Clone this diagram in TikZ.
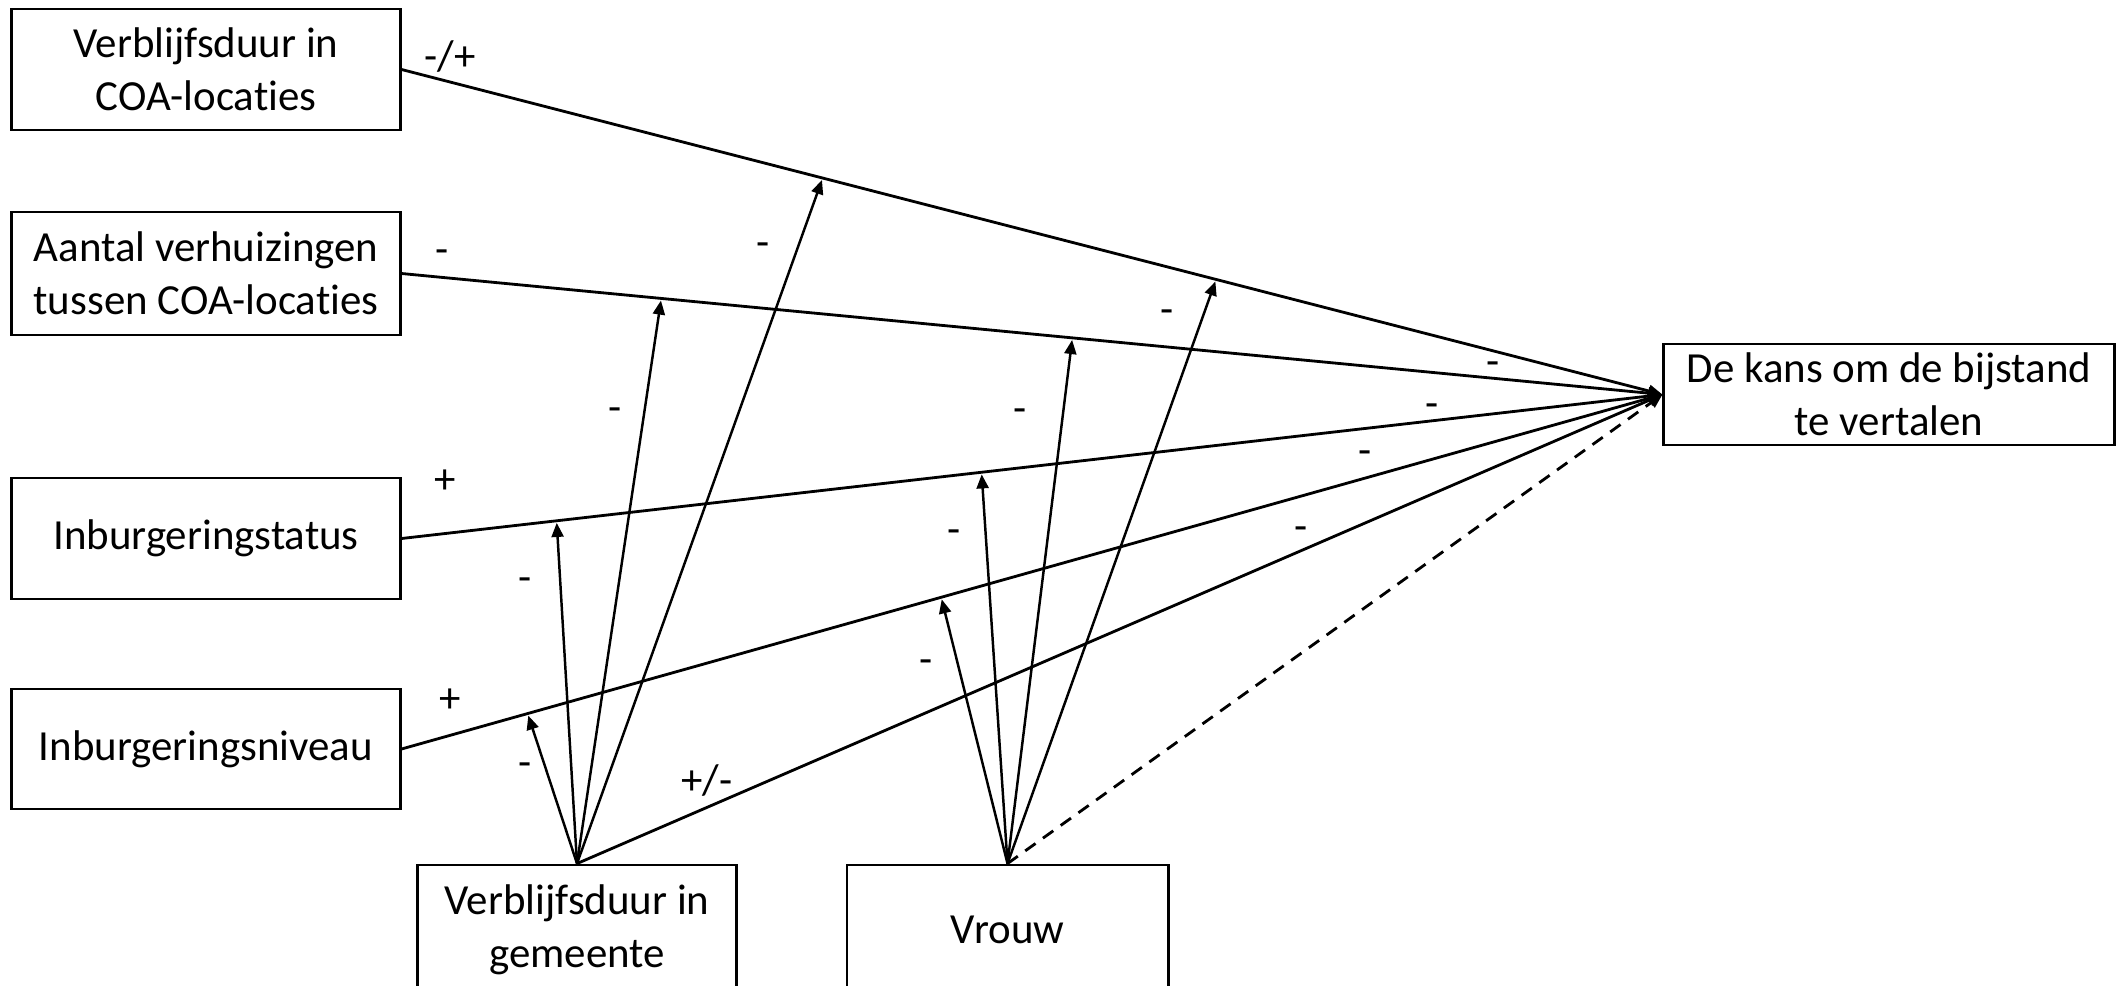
\documentclass[tikz,border=0pt]{standalone}
\usepackage{fontspec}
\setmainfont[Ligatures=NoCommon]{Carlito}
\usetikzlibrary{arrows.meta,calc}
\begin{document}
\begin{tikzpicture}[x=0.01cm,y=-0.01cm,
  txt/.style={font=\fontsize{12.2}{15.2}\selectfont},
  box/.style={draw,line width=0.8pt,rectangle,align=center,inner sep=2pt,txt},
  rel/.style={line width=0.8pt,-{Triangle[length=4pt,width=3.4pt]}},
  modarrow/.style={line width=0.7pt,-{Triangle[length=4pt,width=3.4pt]},shorten >=0.6pt},
  lab/.style={txt,inner sep=0pt}]
\clip (0,0) rectangle (2119,985);
\fill[white] (0,0) rectangle (2119,985);
% boxes
\node[box,minimum width=3.88cm,minimum height=1.21cm] (b1) at (206,69.5) {Verblijfsduur in\\COA-locaties};
\node[box,minimum width=3.88cm,minimum height=1.23cm] (b2) at (206,273.5) {Aantal verhuizingen\\tussen COA-locaties};
\node[box,minimum width=3.88cm,minimum height=1.21cm] (b3) at (206,538.5) {Inburgeringstatus};
\node[box,minimum width=3.88cm,minimum height=1.20cm] (b4) at (206,749) {Inburgeringsniveau};
\node[box,minimum width=3.19cm,minimum height=1.30cm] (b5) at (577,930) {Verblijfsduur in\\gemeente};
\node[box,minimum width=3.21cm,minimum height=1.30cm] (b6) at (1007.5,930) {Vrouw};
\node[box,minimum width=4.50cm,minimum height=1.01cm] (t) at (1889,394.5) {De kans om de bijstand\\te vertalen};
% main relations
\draw[rel] (b1.east) -- (t.west);
\draw[rel] (b2.east) -- (t.west);
\draw[rel] (b3.east) -- (t.west);
\draw[rel] (b4.east) -- (t.west);
\draw[rel] (b5.north) -- (t.west);
\draw[rel,dash pattern=on 3.6pt off 2.6pt] (b6.north) -- (t.west);
% moderation targets on the main lines
\coordinate (g1) at ($(b1.east)!0.334!(t.west)$);
\coordinate (g2) at ($(b2.east)!0.206!(t.west)$);
\coordinate (g3) at ($(b3.east)!0.123!(t.west)$);
\coordinate (g4) at ($(b4.east)!0.100!(t.west)$);
\coordinate (v1) at ($(b1.east)!0.646!(t.west)$);
\coordinate (v2) at ($(b2.east)!0.532!(t.west)$);
\coordinate (v3) at ($(b3.east)!0.460!(t.west)$);
\coordinate (v4) at ($(b4.east)!0.428!(t.west)$);
\foreach \p in {g1,g2,g3,g4} \draw[modarrow] (b5.north) -- (\p);
\foreach \p in {v1,v2,v3,v4} \draw[modarrow] (b6.north) -- (\p);
% labels
\node[lab] (l1) at (450,57) {-/+};
\node[lab] (l2) at (442,257) {-};
\node[lab] (l3) at (445,482) {+};
\node[lab] (l4) at (450,701) {+};
\node[lab] (l5) at (707,781) {+/-};
\node[lab] (m1) at (763,250) {-};
\node[lab] (m2) at (615,415) {-};
\node[lab] (m3) at (525,585) {-};
\node[lab] (m4) at (525,770) {-};
\node[lab] (n1) at (1167,317) {-};
\node[lab] (n2) at (1020,416) {-};
\node[lab] (n3) at (954,537) {-};
\node[lab] (n4) at (926,667) {-};
\node[lab] (r1) at (1493,369) {-};
\node[lab] (r2) at (1432,411) {-};
\node[lab] (r3) at (1365,458) {-};
\node[lab] (r4) at (1301,534) {-};
\end{tikzpicture}
\end{document}
